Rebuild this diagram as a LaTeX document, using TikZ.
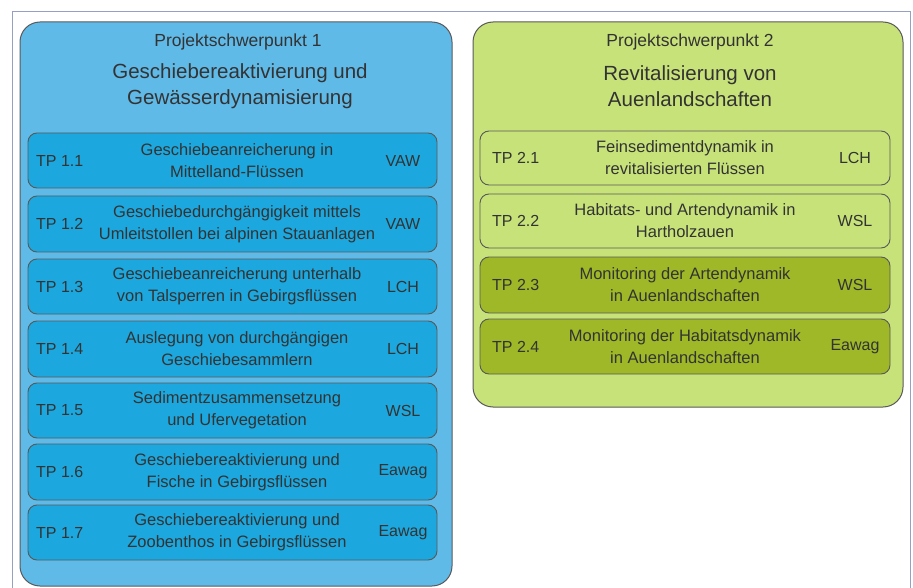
\documentclass[tikz,border=0pt]{standalone}
\usepackage{fontspec}
\setmainfont{Liberation Sans}
\begin{document}
\begin{tikzpicture}[x=1pt,y=-1pt,
  panel/.style={draw=black!65, line width=1pt, rounded corners=20pt},
  tpbox/.style={draw=black!65, line width=0.9pt, rounded corners=9pt},
  txt/.style={text=black!80, font=\fontsize{16.5}{22}\selectfont, align=center, inner sep=0pt},
  lab/.style={text=black!80, font=\fontsize{16}{22}\selectfont, inner sep=0pt},
  head/.style={text=black!80, font=\fontsize{17.5}{20}\selectfont, inner sep=0pt},
  title/.style={text=black!80, font=\fontsize{20.5}{26}\selectfont, align=center, inner sep=0pt}]
\useasboundingbox (0,0) rectangle (913,588);
\begin{scope}
\clip (0,0) rectangle (913,588);
\draw[draw={rgb,255:red,150;green,160;blue,195}, line width=0.8pt] (12,11) rectangle (910,620);
\end{scope}
\definecolor{pblue}{RGB}{96,186,232}
\definecolor{bblue}{RGB}{28,168,222}
\definecolor{pgreen}{RGB}{200,226,122}
\definecolor{bolive}{RGB}{158,184,40}
% panels
\draw[panel, fill=pblue] (20,22) rectangle (452,586);
\draw[panel, fill=pgreen] (473,22) rectangle (903,407);
% headers
\node[head] (h1) at (238,42) {Projektschwerpunkt 1};
\node[title] (t1) at (240,86) {Geschiebereaktivierung und\\Gewässerdynamisierung};
\node[head] (h2) at (690,42) {Projektschwerpunkt 2};
\node[title] (t2) at (690,86) {Revitalisierung von\\Auenlandschaften};
% left boxes
\foreach \i/\ya/\yb/\c/\org in {
  1/133/188/{Geschiebeanreicherung in\\Mittelland-Flüssen}/VAW,
  2/196/252/{Geschiebedurchgängigkeit mittels\\Umleitstollen bei alpinen Stauanlagen}/VAW,
  3/259/314/{Geschiebeanreicherung unterhalb\\von Talsperren in Gebirgsflüssen}/LCH,
  4/321/377/{Auslegung von durchgängigen\\Geschiebesammlern}/LCH,
  5/383/438/{Sedimentzusammensetzung\\und Ufervegetation}/WSL,
  6/444/500/{Geschiebereaktivierung und\\Fische in Gebirgsflüssen}/Eawag,
  7/505/560/{Geschiebereaktivierung und\\Zoobenthos in Gebirgsflüssen}/Eawag}{
  \draw[tpbox, fill=bblue] (28,\ya) rectangle (437,\yb);
  \node[lab, anchor=west] (l\i) at (36,{(\ya+\yb)/2}) {TP 1.\i};
  \node[txt] (c\i) at (237,{(\ya+\yb)/2}) {\c};
  \node[lab] (r\i) at (403,{(\ya+\yb)/2}) {\org};
}
% right boxes
\foreach \i/\ya/\yb/\fc/\c/\org in {
  1/131/185/pgreen/{Feinsedimentdynamik in\\revitalisierten Flüssen}/LCH,
  2/194/248/pgreen/{Habitats- und Artendynamik in\\Hartholzauen}/WSL,
  3/257/313/bolive/{Monitoring der Artendynamik\\in Auenlandschaften}/WSL,
  4/319/374/bolive/{Monitoring der Habitatsdynamik\\in Auenlandschaften}/Eawag}{
  \draw[tpbox, fill=\fc] (480,\ya) rectangle (890,\yb);
  \node[lab, anchor=west] (L\i) at (492,{(\ya+\yb)/2}) {TP 2.\i};
  \node[txt] (C\i) at (685,{(\ya+\yb)/2}) {\c};
  \node[lab] (R\i) at (855,{(\ya+\yb)/2}) {\org};
}
\end{tikzpicture}
\end{document}
